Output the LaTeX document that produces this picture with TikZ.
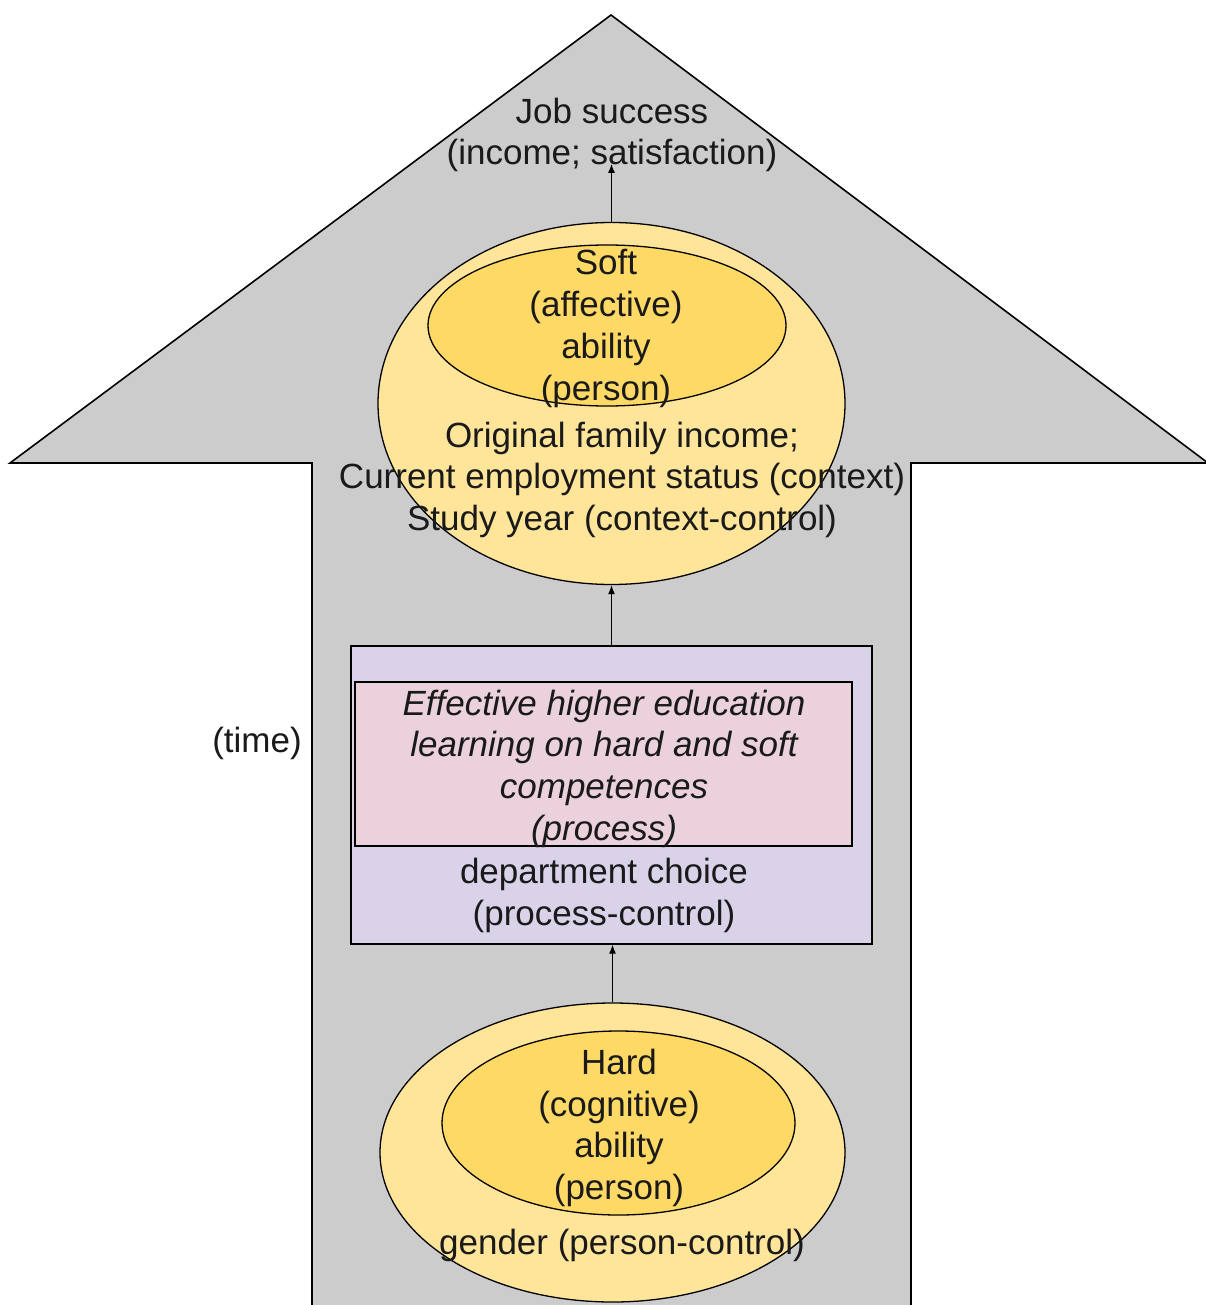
\documentclass[tikz,border=0pt]{standalone}
\usepackage{fontspec}
\setmainfont{Liberation Sans}
\usetikzlibrary{shapes.geometric,arrows.meta,calc}
\definecolor{arrowgray}{HTML}{CCCCCC}
\definecolor{lightyellow}{HTML}{FFE599}
\definecolor{darkyellow}{HTML}{FFD966}
\definecolor{lavender}{HTML}{D9D2E9}
\definecolor{pinkbox}{HTML}{EAD1DC}
\definecolor{inkcol}{HTML}{1A1A1A}
\begin{document}
\begin{tikzpicture}[x=1pt,y=-1pt,
  line width=1.3pt,
  txt/.style={align=center,inner sep=0pt,font=\fontsize{35}{41.7}\selectfont,text=inkcol},
  oval/.style={ellipse,draw,inner sep=0pt},
  boxed/.style={rectangle,draw,inner sep=0pt},
  conn/.style={-{Latex[length=9pt,width=7pt]},line width=1.3pt}]
\useasboundingbox (0,0) rectangle (1206,1305);
\fill[white] (0,0) rectangle (1206,1305);
% big arrow (time)
\draw[fill=arrowgray,line width=1.6pt] (611,15) -- (1208,463) -- (911,463) -- (911,1330)
  -- (312,1330) -- (312,463) -- (10,463) -- cycle;
% job success
\node[txt] (jobtxt) at (612,135) {Job success\\(income; satisfaction)};
% soft ability
\node[oval,fill=lightyellow,minimum width=467pt,minimum height=362pt] (softout) at (611.5,403.5) {};
\node[oval,fill=darkyellow,minimum width=358pt,minimum height=161pt] (softin) at (607,325.5) {};
\node[txt] (softtxt) at (606,328.5) {Soft\\(affective)\\ability\\(person)};
\node[txt] (ctxtxt) at (622,479.7) {Original family income;\\Current employment status (context)\\Study year (context-control)};
% process
\node[boxed,fill=lavender,minimum width=521pt,minimum height=298pt] (procout) at (611.5,795) {};
\node[boxed,fill=pinkbox,minimum width=497pt,minimum height=164pt] (procin) at (603.5,764) {};
\node[txt,font=\fontsize{35}{41.7}\selectfont\itshape] (proctxt) at (604,768.5) {Effective higher education\\learning on hard and soft\\competences\\(process)};
\node[txt] (ctrltxt) at (604,895.5) {department choice\\(process-control)};
% time
\node[txt] (timetxt) at (257,743) {(time)};
% hard ability
\node[oval,fill=lightyellow,minimum width=465pt,minimum height=299pt] (hardout) at (612.5,1152.5) {};
\node[oval,fill=darkyellow,minimum width=353pt,minimum height=184pt] (hardin) at (618.5,1123) {};
\node[txt] (hardtxt) at (619,1128) {Hard\\(cognitive)\\ability\\(person)};
\node[txt] (gendertxt) at (622,1245) {gender (person-control)};
% connectors
\draw[conn] (hardout.north) -- (hardout.north |- procout.south);
\draw[conn] (procout.north) -- (procout.north |- softout.south);
\draw[conn] (softout.north) -- ($(softout.north |- jobtxt.south)+(0,-9)$);
\end{tikzpicture}
\end{document}
